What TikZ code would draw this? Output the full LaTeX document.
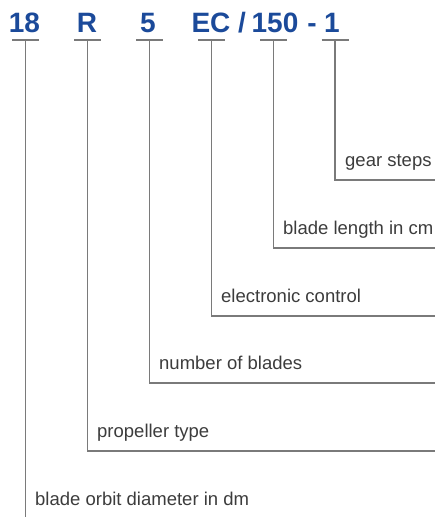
\documentclass[tikz,border=0pt]{standalone}
\usepackage{fontspec}
\setmainfont{Liberation Sans}
\usepackage{xcolor}
\definecolor{codeblue}{HTML}{1B4A9A}
\definecolor{textgray}{HTML}{3C3C3C}
\definecolor{linegray}{HTML}{7A7A7A}

\begin{document}
\begin{tikzpicture}[x=1pt, y=-1pt,
        code/.style = {font=\bfseries\fontsize{28}{28}\selectfont, text=codeblue, anchor=base, inner sep=0pt},
        desc/.style = {font=\fontsize{18.5}{18.5}\selectfont, text=textgray, anchor=base west, inner sep=0pt},
        lead/.style = {draw=linegray, line width=1.4pt}]
        \useasboundingbox (0,0) rectangle (444,517);

        % type code
        \node[code] (dia) at (24.5,32) {18};
        \node[code] (typ) at (87,32) {R};
        \node[code] (num) at (148,32) {5};
        \node[code] (ctl) at (211,32) {EC};
        \node[code] (sl) at (242,32) {/};
        \node[code] (len) at (275,32) {150};
        \node[code] (dsh) at (312,32) {-};
        \node[code] (gear) at (332,32) {1};

        % tops of the leaders
        \coordinate (dia-t) at (25.5,40);
        \coordinate (typ-t) at (87.5,40);
        \coordinate (num-t) at (149.5,40);
        \coordinate (ctl-t) at (211.5,40);
        \coordinate (len-t) at (273.5,40);
        \coordinate (gear-t) at (335,40);

        % descriptions
        \node[desc] (gs) at (345,166) {gear steps};
        \node[desc] (bl) at (283,234) {blade length in cm};
        \node[desc] (ec) at (221,302) {electronic control};
        \node[desc] (nb) at (159,369) {number of blades};
        \node[desc] (pt) at (97,437) {propeller type};
        \node[desc] (od) at (35,505) {blade orbit diameter in dm};

        \coordinate (gs-e) at (435,180);
        \coordinate (bl-e) at (435,248);
        \coordinate (ec-e) at (435,316);
        \coordinate (nb-e) at (435,383);
        \coordinate (pt-e) at (435,451);
        \coordinate (od-e) at (25.5,517);

        % T bars
        \draw[lead] ([xshift=-13.5pt]dia-t) -- ([xshift=13.5pt]dia-t);
        \draw[lead] ([xshift=-13.5pt]typ-t) -- ([xshift=13.5pt]typ-t);
        \draw[lead] ([xshift=-13.5pt]num-t) -- ([xshift=13.5pt]num-t);
        \draw[lead] ([xshift=-13.5pt]ctl-t) -- ([xshift=13.5pt]ctl-t);
        \draw[lead] ([xshift=-13.5pt]len-t) -- ([xshift=13.5pt]len-t);
        \draw[lead] ([xshift=-13.5pt]gear-t) -- ([xshift=13.5pt]gear-t);

        % leaders
        \draw[lead] (gear-t) |- (gs-e);
        \draw[lead] (len-t) |- (bl-e);
        \draw[lead] (ctl-t) |- (ec-e);
        \draw[lead] (num-t) |- (nb-e);
        \draw[lead] (typ-t) |- (pt-e);
        \draw[lead] (dia-t) -- (od-e);

    \end{tikzpicture}
\end{document}
